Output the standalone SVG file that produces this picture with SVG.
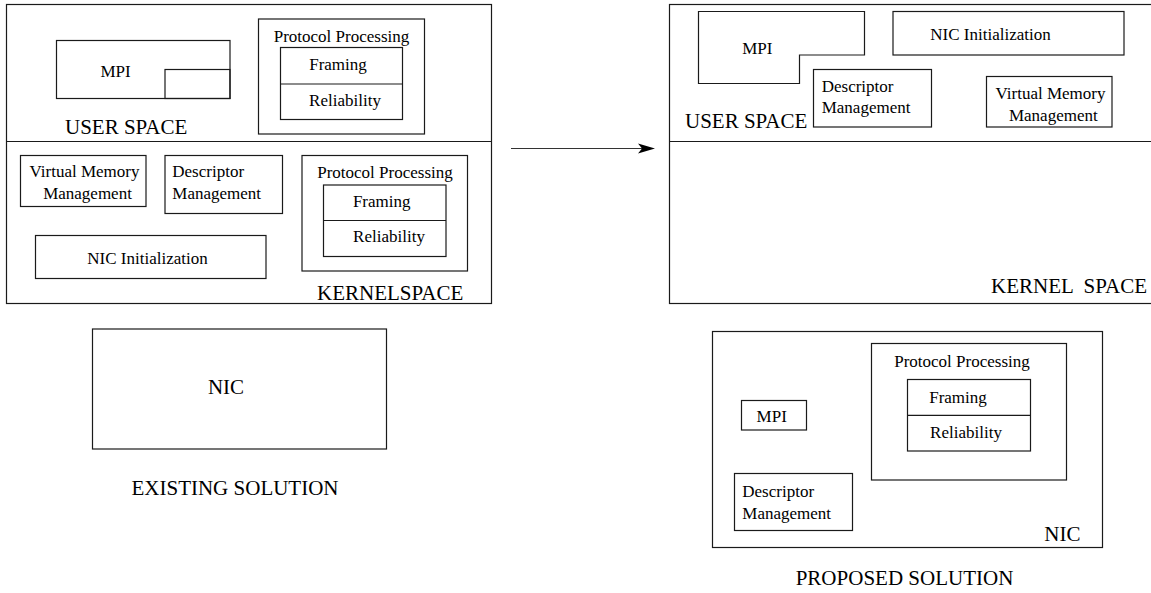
<svg xmlns="http://www.w3.org/2000/svg" width="1151" height="593" viewBox="0 0 1151 593">
<style>
.box,.div{fill:none;stroke:#1a1a1a;stroke-width:1.2}
text{font-family:"Liberation Serif","Times New Roman",serif;fill:#000}
.s{font-size:17px}
.b{font-size:21px}
.m{text-anchor:middle}
.e{text-anchor:end}
</style>
<rect width="1151" height="593" fill="#fff"/>
<g id="left-system">
<rect class="box" x="6.5" y="4.5" width="485" height="299"/>
<line class="div" x1="6.5" y1="141.5" x2="491.5" y2="141.5"/>
<text class="b" x="65" y="134">USER SPACE</text>
<text class="b" x="317" y="300">KERNELSPACE</text>
</g>
<g id="left-mpi">
<rect class="box" x="56.5" y="40.5" width="173.5" height="58"/>
<rect class="box" x="165" y="69.5" width="65" height="29"/>
<text class="s m" x="115.5" y="77">MPI</text>
</g>
<g id="left-user-protocol">
<rect class="box" x="258.5" y="19" width="166" height="115"/>
<text class="s m" x="341.5" y="41.5">Protocol Processing</text>
<rect class="box" x="280.5" y="47.5" width="122" height="72"/>
<line class="div" x1="280.5" y1="84" x2="402.5" y2="84"/>
<text class="s m" x="338" y="70">Framing</text>
<text class="s m" x="345" y="106">Reliability</text>
</g>
<g id="left-vmm">
<rect class="box" x="20.5" y="155.5" width="125.5" height="51"/>
<text class="s m" x="84.5" y="176.5">Virtual Memory</text>
<text class="s m" x="87.5" y="199">Management</text>
</g>
<g id="left-descriptor">
<rect class="box" x="165" y="155.5" width="117.5" height="58"/>
<text class="s" x="172.3" y="176.5">Descriptor</text>
<text class="s" x="172.3" y="199">Management</text>
</g>
<g id="left-nic-init">
<rect class="box" x="35.5" y="235.5" width="230.5" height="43"/>
<text class="s m" x="147.5" y="264">NIC Initialization</text>
</g>
<g id="left-kernel-protocol">
<rect class="box" x="302" y="155.5" width="165.5" height="115.5"/>
<text class="s m" x="385" y="177.5">Protocol Processing</text>
<rect class="box" x="323.5" y="185" width="122.5" height="71.5"/>
<line class="div" x1="323.5" y1="220.5" x2="446" y2="220.5"/>
<text class="s m" x="381.7" y="206.5">Framing</text>
<text class="s m" x="389" y="242">Reliability</text>
</g>
<g id="left-nic">
<rect class="box" x="92.5" y="329" width="294" height="120"/>
<text class="b m" x="226" y="394">NIC</text>
</g>
<g id="existing-label">
<text class="b m" x="235" y="495">EXISTING SOLUTION</text>
</g>
<g id="connectors">
<line x1="511" y1="148.5" x2="645" y2="148.5" stroke="#333" stroke-width="1.2"/>
<polygon points="655,148.5 638,143.5 642,148.5 638,153.5" fill="#000"/>
</g>
<g id="right-system">
<rect class="box" x="669.5" y="4.5" width="490" height="299"/>
<line class="div" x1="669.5" y1="141.5" x2="1151" y2="141.5"/>
<text class="b" x="685" y="127.7">USER SPACE</text>
<text class="b e" x="1147" y="293.3" xml:space="preserve">KERNEL  SPACE</text>
</g>
<g id="right-mpi">
<polygon class="box" points="698.5,11.5 864.5,11.5 864.5,55 799.5,55 799.5,83.5 698.5,83.5"/>
<text class="s m" x="757.3" y="54.3">MPI</text>
</g>
<g id="right-nic-init">
<rect class="box" x="893" y="11.5" width="231" height="43.5"/>
<text class="s m" x="990.5" y="40">NIC Initialization</text>
</g>
<g id="right-descriptor">
<rect class="box" x="813.5" y="69.5" width="118" height="57.5"/>
<text class="s" x="821.7" y="91.7">Descriptor</text>
<text class="s" x="821.7" y="113.3">Management</text>
</g>
<g id="right-vmm">
<rect class="box" x="986.5" y="76.5" width="125.5" height="50.5"/>
<text class="s m" x="1050.5" y="98.7">Virtual Memory</text>
<text class="s m" x="1053.3" y="120.7">Management</text>
</g>
<g id="right-nic">
<rect class="box" x="712.5" y="331.5" width="390" height="216"/>
<text class="b" x="1044.3" y="541">NIC</text>
</g>
<g id="right-nic-protocol">
<rect class="box" x="871.5" y="343.5" width="195" height="136.5"/>
<text class="s m" x="962" y="366.7">Protocol Processing</text>
<rect class="box" x="907.5" y="379.5" width="123" height="71.5"/>
<line class="div" x1="907.5" y1="415.3" x2="1030.5" y2="415.3"/>
<text class="s m" x="958" y="402.7">Framing</text>
<text class="s m" x="966" y="438.3">Reliability</text>
</g>
<g id="right-nic-mpi">
<rect class="box" x="741.5" y="400.5" width="65" height="29.5"/>
<text class="s m" x="771.7" y="422.3">MPI</text>
</g>
<g id="right-nic-descriptor">
<rect class="box" x="734.5" y="473.5" width="118" height="57"/>
<text class="s" x="742.3" y="496.7">Descriptor</text>
<text class="s" x="742.3" y="519">Management</text>
</g>
<g id="proposed-label">
<text class="b m" x="904.5" y="585">PROPOSED SOLUTION</text>
</g>
</svg>
